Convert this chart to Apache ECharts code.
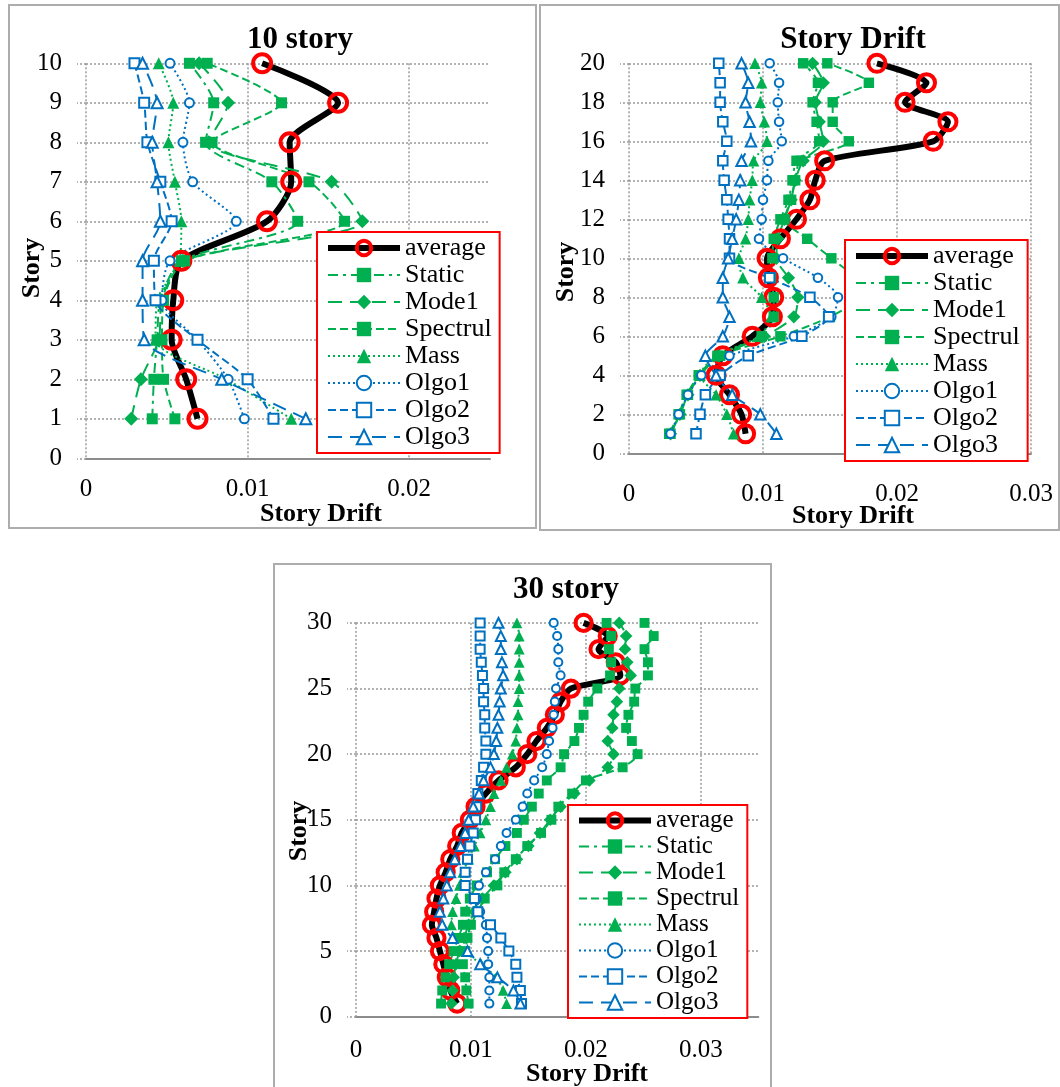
<!DOCTYPE html>
<html>
<head>
<meta charset="utf-8">
<script src="https://cdn.jsdelivr.net/npm/echarts@6/dist/echarts.min.js"></script>
<style>
  body { margin: 0; background: #fff; width: 1060px; height: 1087px; overflow: hidden; position: relative; }
  .panel { position: absolute; border: 2px solid #adadad; box-sizing: border-box; background: #fff; }
  .panel > div { position: absolute; left: 0; top: 0; right: 0; bottom: 0; }
</style>
</head>
<body>
<div class="panel" style="left:8px;top:4px;width:529px;height:525px"><div id="chart10"></div></div>
<div class="panel" style="left:539px;top:4px;width:521px;height:527px"><div id="chart20"></div></div>
<div class="panel" style="left:273px;top:563px;width:499px;height:530px"><div id="chart30"></div></div>
<script>
const seriesNames = ['average', 'Static', 'Mode1', 'Spectrul', 'Mass', 'Olgo1', 'Olgo2', 'Olgo3'];

// 10 story
const stories10 = [1, 2, 3, 4, 5, 6, 7, 8, 9, 10];
const average10 = [0.0069, 0.0062, 0.0053, 0.0054, 0.0059, 0.0112, 0.0127, 0.0126, 0.0156, 0.0109];
const static10 = [0.0041, 0.0042, 0.0044, 0.0046, 0.0059, 0.0131, 0.0115, 0.0074, 0.0079, 0.0064];
const mode1_10 = [0.0028, 0.0034, 0.0045, 0.0047, 0.0060, 0.0171, 0.0152, 0.0076, 0.0088, 0.0070];
const spectrul10 = [0.0055, 0.0048, 0.0047, 0.0048, 0.0061, 0.0160, 0.0138, 0.0078, 0.0121, 0.0075];
const mass10 = [0.0127, 0.0087, 0.0043, 0.0044, 0.0058, 0.0059, 0.0055, 0.0051, 0.0054, 0.0045];
const olgo1_10 = [0.0098, 0.0088, 0.0069, 0.0047, 0.0052, 0.0093, 0.0066, 0.0060, 0.0064, 0.0052];
const olgo2_10 = [0.0116, 0.0100, 0.0069, 0.0043, 0.0042, 0.0053, 0.0046, 0.0038, 0.0036, 0.0030];
const olgo3_10 = [0.0136, 0.0084, 0.0036, 0.0035, 0.0035, 0.0046, 0.0044, 0.0041, 0.0044, 0.0035];

// 20 story
const stories20 = [1, 2, 3, 4, 5, 6, 7, 8, 9, 10, 11, 12, 13, 14, 15, 16, 17, 18, 19, 20];
const average20 = [0.0087, 0.0084, 0.0075, 0.0065, 0.0070, 0.0092, 0.0107, 0.0108, 0.0104, 0.0103, 0.0113, 0.0125, 0.0135, 0.0139, 0.0146, 0.0227, 0.0238, 0.0206, 0.0222, 0.0185];
const static20 = [0.0030, 0.0037, 0.0043, 0.0052, 0.0066, 0.0099, 0.0108, 0.0108, 0.0106, 0.0107, 0.0108, 0.0113, 0.0119, 0.0122, 0.0125, 0.0142, 0.0140, 0.0137, 0.0141, 0.0130];
const mode1_20 = [0.0031, 0.0038, 0.0044, 0.0053, 0.0067, 0.0101, 0.0123, 0.0126, 0.0119, 0.0110, 0.0111, 0.0116, 0.0121, 0.0124, 0.0130, 0.0145, 0.0142, 0.0139, 0.0145, 0.0137];
const spectrul20 = [0.0031, 0.0038, 0.0044, 0.0053, 0.0068, 0.0113, 0.0150, 0.0170, 0.0168, 0.0151, 0.0133, 0.0116, 0.0121, 0.0124, 0.0128, 0.0164, 0.0152, 0.0152, 0.0179, 0.0148];
const mass20 = [0.0078, 0.0073, 0.0065, 0.0053, 0.0065, 0.0097, 0.0106, 0.0099, 0.0085, 0.0082, 0.0087, 0.0089, 0.0090, 0.0092, 0.0093, 0.0103, 0.0101, 0.0098, 0.0099, 0.0094];
const olgo1_20 = [0.0031, 0.0037, 0.0044, 0.0054, 0.0075, 0.0123, 0.0151, 0.0156, 0.0141, 0.0115, 0.0097, 0.0099, 0.0100, 0.0103, 0.0104, 0.0114, 0.0112, 0.0111, 0.0112, 0.0105];
const olgo2_20 = [0.0050, 0.0053, 0.0057, 0.0068, 0.0089, 0.0129, 0.0149, 0.0135, 0.0105, 0.0075, 0.0075, 0.0074, 0.0073, 0.0071, 0.0070, 0.0073, 0.0070, 0.0068, 0.0068, 0.0067];
const olgo3_20 = [0.0110, 0.0098, 0.0077, 0.0065, 0.0057, 0.0070, 0.0075, 0.0070, 0.0070, 0.0074, 0.0077, 0.0080, 0.0082, 0.0083, 0.0084, 0.0091, 0.0090, 0.0087, 0.0089, 0.0084];

// 30 story
const stories30 = [1, 2, 3, 4, 5, 6, 7, 8, 9, 10, 11, 12, 13, 14, 15, 16, 17, 18, 19, 20, 21, 22, 23, 24, 25, 26, 27, 28, 29, 30];
const average30 = [0.0088, 0.0082, 0.0079, 0.0076, 0.0073, 0.0070, 0.0066, 0.0068, 0.0070, 0.0073, 0.0078, 0.0082, 0.0088, 0.0092, 0.0099, 0.0104, 0.0113, 0.0124, 0.0139, 0.0149, 0.0157, 0.0166, 0.0173, 0.0178, 0.0187, 0.0230, 0.0226, 0.0211, 0.0219, 0.0198];
const static30 = [0.0074, 0.0075, 0.0078, 0.0081, 0.0085, 0.0089, 0.0093, 0.0095, 0.0099, 0.0105, 0.0114, 0.0121, 0.0130, 0.0140, 0.0146, 0.0153, 0.0159, 0.0166, 0.0178, 0.0181, 0.0190, 0.0194, 0.0198, 0.0202, 0.0210, 0.0221, 0.0222, 0.0220, 0.0222, 0.0218];
const mode1_30 = [0.0083, 0.0084, 0.0085, 0.0087, 0.0090, 0.0094, 0.0098, 0.0103, 0.0110, 0.0120, 0.0130, 0.0140, 0.0150, 0.0160, 0.0169, 0.0178, 0.0190, 0.0203, 0.0219, 0.0224, 0.0219, 0.0223, 0.0224, 0.0227, 0.0229, 0.0239, 0.0236, 0.0234, 0.0235, 0.0229];
const spectrul30 = [0.0098, 0.0096, 0.0095, 0.0093, 0.0095, 0.0097, 0.0100, 0.0106, 0.0112, 0.0123, 0.0129, 0.0139, 0.0149, 0.0161, 0.0170, 0.0176, 0.0188, 0.0200, 0.0232, 0.0245, 0.0240, 0.0235, 0.0237, 0.0242, 0.0243, 0.0254, 0.0254, 0.0251, 0.0259, 0.0251];
const mass30 = [0.0131, 0.0128, 0.0122, 0.0109, 0.0094, 0.0086, 0.0083, 0.0084, 0.0087, 0.0090, 0.0093, 0.0098, 0.0103, 0.0108, 0.0113, 0.0117, 0.0120, 0.0126, 0.0131, 0.0136, 0.0139, 0.0140, 0.0141, 0.0141, 0.0142, 0.0142, 0.0142, 0.0142, 0.0142, 0.0140];
const olgo1_30 = [0.0116, 0.0116, 0.0116, 0.0115, 0.0115, 0.0114, 0.0113, 0.0108, 0.0105, 0.0107, 0.0113, 0.0121, 0.0126, 0.0131, 0.0139, 0.0145, 0.0149, 0.0155, 0.0162, 0.0166, 0.0168, 0.0171, 0.0172, 0.0173, 0.0174, 0.0178, 0.0176, 0.0176, 0.0175, 0.0172];
const olgo2_30 = [0.0144, 0.0143, 0.0140, 0.0139, 0.0133, 0.0126, 0.0117, 0.0106, 0.0103, 0.0095, 0.0095, 0.0097, 0.0099, 0.0102, 0.0104, 0.0105, 0.0106, 0.0109, 0.0111, 0.0113, 0.0113, 0.0112, 0.0112, 0.0111, 0.0111, 0.0110, 0.0109, 0.0108, 0.0108, 0.0108];
const olgo3_30 = [0.0143, 0.0137, 0.0123, 0.0108, 0.0097, 0.0084, 0.0075, 0.0073, 0.0076, 0.0079, 0.0082, 0.0086, 0.0091, 0.0095, 0.0098, 0.0102, 0.0107, 0.0111, 0.0117, 0.0120, 0.0122, 0.0123, 0.0124, 0.0125, 0.0126, 0.0128, 0.0127, 0.0126, 0.0126, 0.0124];

const FONT = 'Liberation Serif';
const GREEN = '#00b050';
const BLUE = '#0070c0';

// line / marker look of each series (same in all three panels)
const looks = {
  average: {symbol: 'circle', size: 18, line: {color: '#000', width: 6, type: 'solid'},
    item: {color: 'rgba(255,255,255,0)', borderColor: '#ff0000', borderWidth: 4}},
  Static: {symbol: 'rect', size: 11, line: {color: GREEN, width: 2, type: [10, 5, 3, 5]},
    item: {color: GREEN, borderWidth: 0}},
  Mode1: {symbol: 'diamond', size: 14, line: {color: GREEN, width: 2, type: [14, 8]},
    item: {color: GREEN, borderWidth: 0}},
  Spectrul: {symbol: 'rect', size: 11, line: {color: GREEN, width: 2, type: [8, 4]},
    item: {color: GREEN, borderWidth: 0}},
  Mass: {symbol: 'triangle', size: 12, line: {color: GREEN, width: 2, type: [2, 3]},
    item: {color: GREEN, borderWidth: 0}},
  Olgo1: {symbol: 'circle', size: 9, line: {color: BLUE, width: 2, type: [2, 3]},
    item: {color: '#fff', borderColor: BLUE, borderWidth: 2}},
  Olgo2: {symbol: 'rect', size: 10, line: {color: BLUE, width: 2, type: [8, 4]},
    item: {color: '#fff', borderColor: BLUE, borderWidth: 2}},
  Olgo3: {symbol: 'triangle', size: 11, line: {color: BLUE, width: 2, type: [14, 8]},
    item: {color: '#fff', borderColor: BLUE, borderWidth: 2}}
};

const makeSeries = (name, values, stories, scale) => {
  const look = looks[name];
  return {
    name: name,
    type: 'line',
    smooth: 0.25,
    data: values.map((v, i) => [v, stories[i]]),
    symbol: look.symbol,
    symbolSize: look.size * scale,
    lineStyle: look.line,
    itemStyle: look.item,
    emphasis: {disabled: true},
    animation: false
  };
};

const driftLabel = (v) => {
  const k = Math.round(v * 100);
  if (Math.abs(v * 100 - k) > 1e-6) return '';
  return k === 0 ? '0' : (k / 100).toFixed(2);
};

const gridLine = {type: [2, 2], color: '#9a9a9a', width: 1.5};

const text = (str, x, y, size, rotate) => ({
  type: 'text', x: x, y: y, rotation: rotate ? Math.PI / 2 : 0,
  style: {text: str, fill: '#000', font: 'bold ' + size + 'px "' + FONT + '"',
    textAlign: 'center', textVerticalAlign: 'middle'}
});

const buildOption = (cfg) => ({
  animation: false,
  textStyle: {fontFamily: FONT},
  grid: cfg.grid,
  xAxis: {
    type: 'value', min: 0, max: cfg.xMax, interval: 0.01,
    axisLine: {show: true, lineStyle: {color: '#8c8c8c', width: 2}},
    axisTick: {show: false},
    axisLabel: {color: '#000', fontSize: 25, fontFamily: FONT, margin: cfg.xLabelMargin, formatter: driftLabel},
    splitLine: {show: true, lineStyle: gridLine, showMinLine: true, showMaxLine: cfg.xMaxLine}
  },
  yAxis: {
    type: 'value', min: 0, max: cfg.yMax, interval: cfg.yStep,
    axisLine: {show: false},
    axisTick: {show: true, length: 9, lineStyle: gridLine},
    axisLabel: {color: '#000', fontSize: 25, fontFamily: FONT, margin: 24},
    splitLine: {show: true, lineStyle: gridLine}
  },
  legend: {
    orient: 'vertical', left: cfg.legend[0], top: cfg.legend[1],
    backgroundColor: '#fff', borderColor: '#ff0000', borderWidth: 2, borderRadius: 0,
    padding: [3, 8, 3, 8],
    itemWidth: 72, itemHeight: 18, itemGap: 1,
    selectedMode: false,
    textStyle: {color: '#000', fontSize: cfg.legendFont, fontFamily: FONT},
    data: seriesNames.map(n => ({
      name: n,
      itemStyle: looks[n].item,
      lineStyle: looks[n].line
    }))
  },
  graphic: [
    text(cfg.title, cfg.titlePos[0], cfg.titlePos[1], 31),
    text('Story Drift', cfg.xNamePos[0], cfg.xNamePos[1], 26),
    text('Story', cfg.yNamePos[0], cfg.yNamePos[1], 26, true)
  ],
  series: cfg.values.map((vals, i) => makeSeries(seriesNames[i], vals, cfg.stories, cfg.scale))
});

const chart10 = echarts.init(document.getElementById('chart10'));
chart10.setOption(buildOption({
  title: '10 story', titlePos: [290, 34], xNamePos: [311, 508], yNamePos: [22, 262],
  grid: {left: 76, top: 57.3, width: 404, height: 395},
  xMax: 0.025, xMaxLine: false, xLabelMargin: 19, yMax: 10, yStep: 1,
  legend: [307, 226], legendFont: 26, stories: stories10, scale: 1,
  values: [average10, static10, mode1_10, spectrul10, mass10, olgo1_10, olgo2_10, olgo3_10]
}));

const chart20 = echarts.init(document.getElementById('chart20'));
chart20.setOption(buildOption({
  title: 'Story Drift', titlePos: [312, 34], xNamePos: [312, 510], yNamePos: [25, 266],
  grid: {left: 88, top: 57.3, width: 402, height: 390},
  xMax: 0.03, xMaxLine: true, xLabelMargin: 29, yMax: 20, yStep: 2,
  legend: [304, 234], legendFont: 26, stories: stories20, scale: 0.95,
  values: [average20, static20, mode1_20, spectrul20, mass20, olgo1_20, olgo2_20, olgo3_20]
}));

const chart30 = echarts.init(document.getElementById('chart30'));
chart30.setOption(buildOption({
  title: '30 story', titlePos: [291, 25], xNamePos: [312, 509], yNamePos: [24, 266],
  grid: {left: 81, top: 57.9, width: 402.3, height: 393.8},
  xMax: 0.035, xMaxLine: false, xLabelMargin: 21, yMax: 30, yStep: 5,
  legend: [293, 240], legendFont: 25, stories: stories30, scale: 0.9,
  values: [average30, static30, mode1_30, spectrul30, mass30, olgo1_30, olgo2_30, olgo3_30]
}));
</script>
</body>
</html>
